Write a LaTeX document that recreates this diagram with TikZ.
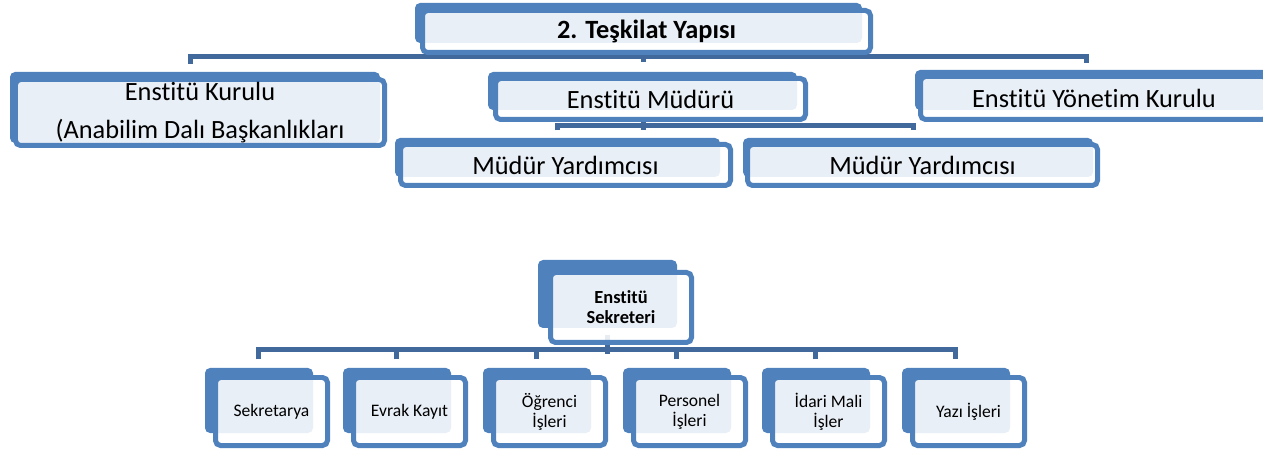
\documentclass[tikz,border=0pt]{standalone}
\usepackage{fontspec}
\setmainfont{Carlito}[Ligatures=NoCommon]
\usetikzlibrary{backgrounds}
\definecolor{kutumavi}{HTML}{4F81BD}
\definecolor{hatmavi}{HTML}{41699C}
\tikzset{
  kutu/.style 2 args={draw=kutumavi, line width=0.1cm, rounded corners=0.1cm,
    fill=white, fill opacity=0.88, text opacity=1, inner sep=0pt,
    minimum width=#1*0.02cm, minimum height=#2*0.02cm, align=center},
  arka/.style={fill=kutumavi, rounded corners=0.1cm},
  bag/.style={draw=hatmavi, line width=0.1cm},
  buyuk/.style={font=\fontsize{15}{21.5}\selectfont},
  kucuk/.style={font=\fontsize{10}{11.4}\selectfont},
}
\begin{document}
\begin{tikzpicture}[x=0.02cm,y=-0.02cm]
  \useasboundingbox (0,0) rectangle (1263,455);

  % teskilat
  \node[kutu={448}{42}, font=\fontsize{15}{18}\selectfont\bfseries] (ust) at (646.5,31.5) {2. Teşkilat Yapısı};
  \node[kutu={369}{66}, buyuk] (kurul) at (200,112.5) {Enstitü Kurulu\\(Anabilim Dalı Başkanlıkları};
  \node[kutu={310}{41}, buyuk] (mudur) at (650.5,99) {Enstitü Müdürü};
  \node[kutu={347}{43}, buyuk] (yon) at (1094,98) {Enstitü Yönetim Kurulu};
  \node[kutu={330}{41}, buyuk] (yrd1) at (565.5,165) {Müdür Yardımcısı};
  \node[kutu={350}{41}, buyuk] (yrd2) at (922.5,165) {Müdür Yardımcısı};

  % sekreterlik
  \node[kutu={141}{70}, font=\fontsize{10.5}{11.4}\selectfont\bfseries] (sek) at (621,307.5) {Enstitü\\Sekreteri};
  \foreach \x/\isim/\yazi in {205/sekr/Sekretarya, 343/evrak/Evrak Kayıt,
      483/ogr/{Öğrenci\\İşleri}, 623/pers/{Personel\\İşleri},
      762/idari/{İdari Mali\\İşler}, 902/yazi/Yazı İşleri}
    \node[kutu={112}{68}, kucuk] (\isim) at (\x+66.5,411.5) {\yazi};

  \begin{scope}[on background layer]
    % baglantilar
    \draw[bag] ([shift={(-6,0)}]ust.south) -- ([shift={(-6,-19)}]ust.south |- kurul.north);
    \draw[bag] ([shift={(-10,-13)}]kurul.north) |- ([shift={(-8,-17)}]yon.north) -- ([shift={(-8,-11)}]yon.north);
    \draw[bag] ([shift={(-7,-14)}]mudur.north) -- ([shift={(-7,-19)}]mudur.north);
    \draw[bag] ([shift={(-7,0)}]mudur.south) -- ([shift={(-7,8)}]mudur.south);
    \draw[bag] ([shift={(-8.5,-11.5)}]yrd1.north) |- ([shift={(-9.5,-16)}]yrd2.north) -- ([shift={(-9.5,-11.5)}]yrd2.north);
    \draw[bag] ([shift={(-14,-10)}]sek.south) -- ([shift={(-14,9.5)}]sek.south);
    \draw[bag] ([shift={(-13.5,-15.5)}]sekr.north) |- ([shift={(-13.5,-25.5)}]yazi.north) -- ([shift={(-13.5,-15.5)}]yazi.north);
    \foreach \isim in {evrak,ogr,pers,idari}
      \draw[bag] ([shift={(-13.5,-15.5)}]\isim.north) -- ([shift={(-13.5,-25.5)}]\isim.north);

    % arka kutular
    \fill[arka] (415,3) rectangle (862,43);
    \fill[arka] (10,72) rectangle (380,143);
    \fill[arka] (488,72) rectangle (797,110);
    \fill[arka] (915,70) rectangle (1270,110);
    \fill[arka] (395,138) rectangle (720,177);
    \fill[arka] (743,138) rectangle (1093,177);
    \fill[arka] (538,260) rectangle (677,328);
    \foreach \x in {205,343,483,623,762,902}
      \fill[arka] (\x,368) rectangle (\x+108,433);
  \end{scope}
\end{tikzpicture}
\end{document}
